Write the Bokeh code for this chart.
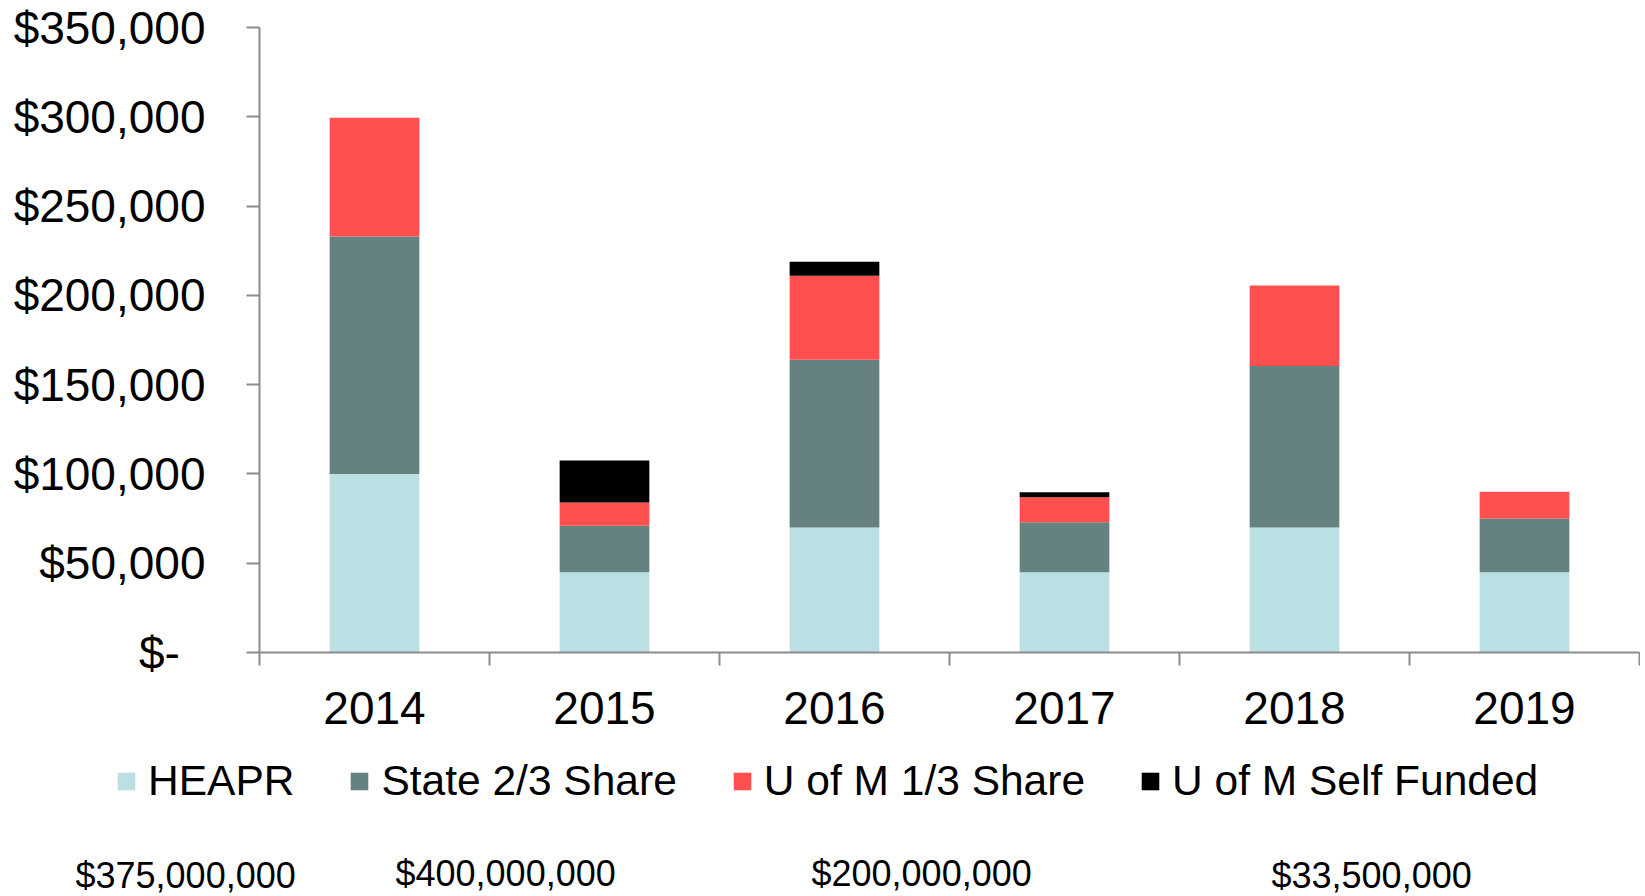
from bokeh.plotting import figure
from bokeh.models import (Range1d, FixedTicker, NumeralTickFormatter, Legend, LegendItem,
                          Label, ColumnDataSource)
from bokeh.embed import file_html
from bokeh.resources import INLINE

# ---- data ----
years = ["2014", "2015", "2016", "2017", "2018", "2019"]
heapr = [100000, 45000, 70000, 45000, 70000, 45000]
state_share = [133000, 26000, 94000, 28000, 90500, 30000]
uofm_share = [66500, 13000, 47000, 14000, 45000, 15000]
uofm_self = [0, 23500, 7800, 2700, 0, 0]
series = ["HEAPR", "State 2/3 Share", "U of M 1/3 Share", "U of M Self Funded"]
colors = ["#BBE0E3", "#658281", "#FF4F4F", "#000000"]
y_ticks = [0, 50000, 100000, 150000, 200000, 250000, 300000, 350000]
bottom_totals = ["$375,000,000", "$400,000,000", "$200,000,000", "$33,500,000"]

FONT = "Liberation Sans"

# ---- layout (pixels) ----
W, H = 1640, 896
AX_LEFT = 259          # screen x of the value axis
AX_RIGHT = 1639        # screen x of the end of the category axis
AX_ZERO = 652          # screen y of the zero line
AX_TOP = 27            # screen y of the top tick

n = len(years)
px_per_cat = (AX_RIGHT - AX_LEFT) / n
units_per_px = y_ticks[-1] / (AX_ZERO - AX_TOP)

centers = [i + 0.5 for i in range(n)]
bounds = [float(i) for i in range(n + 1)]

src = ColumnDataSource(dict(x=centers, **{
    series[0]: heapr, series[1]: state_share, series[2]: uofm_share, series[3]: uofm_self}))

p = figure(width=W, height=H, output_backend="svg", toolbar_location=None,
           x_range=Range1d(-AX_LEFT / px_per_cat, (W - AX_LEFT) / px_per_cat),
           y_range=Range1d(-(H - AX_ZERO) * units_per_px, AX_ZERO * units_per_px),
           min_border=0, min_border_left=0, min_border_right=0,
           min_border_top=0, min_border_bottom=0)
p.outline_line_color = None
p.xgrid.visible = False
p.ygrid.visible = False

renderers = p.vbar_stack(series, x="x", width=0.39, source=src, color=colors, line_color=None)

axis_color = "#8C8C8C"
ya = p.yaxis[0]
ya.fixed_location = 0
ya.bounds = (0, y_ticks[-1])
ya.ticker = FixedTicker(ticks=y_ticks, minor_ticks=[])
ya.formatter = NumeralTickFormatter(format="$0,0")
ya.major_label_overrides = {0: "$-\u00a0\u00a0"}
ya.axis_line_color = axis_color
ya.axis_line_width = 2
ya.major_tick_line_color = axis_color
ya.major_tick_line_width = 2
ya.major_tick_out = 13
ya.major_tick_in = 0
ya.minor_tick_line_color = None
ya.major_label_standoff = 41
ya.major_label_text_font = FONT
ya.major_label_text_font_size = "46px"
ya.major_label_text_color = "black"

xa = p.xaxis[0]
xa.fixed_location = 0
xa.bounds = (0, n)
xa.ticker = FixedTicker(ticks=centers, minor_ticks=bounds)
xa.major_label_overrides = {c: y for c, y in zip(centers, years)}
xa.axis_line_color = axis_color
xa.axis_line_width = 2
xa.major_tick_line_color = None
xa.major_tick_out = 0
xa.major_tick_in = 0
xa.minor_tick_line_color = axis_color
xa.minor_tick_line_width = 2
xa.minor_tick_out = 13
xa.minor_tick_in = 0
xa.major_label_standoff = 26
xa.major_label_text_font = FONT
xa.major_label_text_font_size = "46px"
xa.major_label_text_color = "black"

legend = Legend(items=[LegendItem(label=s, renderers=[r]) for s, r in zip(series, renderers)],
                orientation="horizontal", location=(115, H - 805),
                glyph_width=22, glyph_height=22, label_standoff=11, spacing=54,
                padding=0, margin=0, border_line_color=None, background_fill_alpha=0,
                label_text_font=FONT, label_text_font_size="42.5px", label_text_color="black")
p.add_layout(legend, "center")

total_x = [75, 395, 811, 1271]
total_baseline = [875, 873, 873, 875]
for t, lx, by in zip(bottom_totals, total_x, total_baseline):
    p.add_layout(Label(x=lx, y=H - by, x_units="screen", y_units="screen", text=t,
                       text_font=FONT, text_font_size="36px", text_color="black",
                       text_baseline="alphabetic", text_align="left"))

open("out.html", "w").write(file_html(p, INLINE))
